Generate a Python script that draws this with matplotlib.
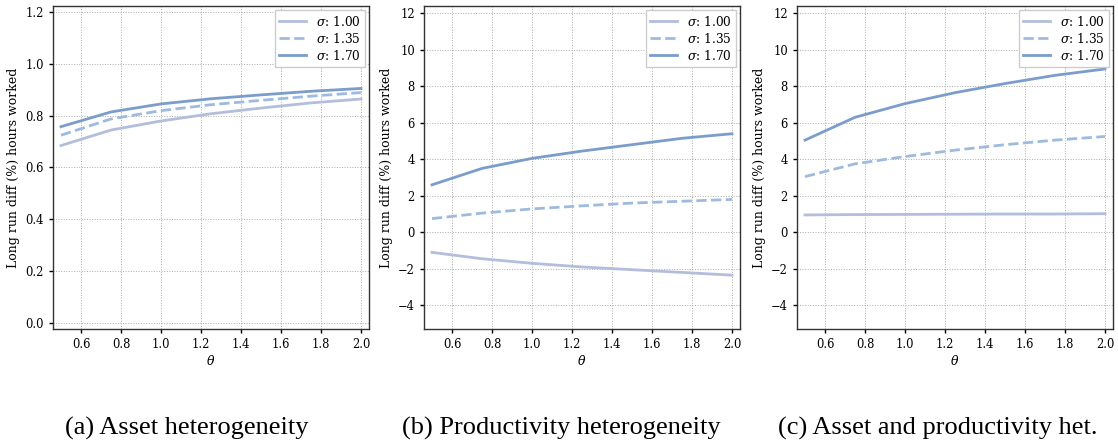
import numpy as np
import matplotlib
matplotlib.use("Agg")
import matplotlib.pyplot as plt

# ---- data ----
theta = [0.5, 0.75, 1.0, 1.25, 1.5, 1.75, 2.0]
sigma_labels = ["1.00", "1.35", "1.70"]

asset_s100 = [0.685, 0.745, 0.780, 0.808, 0.830, 0.850, 0.865]
asset_s135 = [0.725, 0.788, 0.820, 0.843, 0.860, 0.876, 0.890]
asset_s170 = [0.758, 0.815, 0.846, 0.866, 0.881, 0.895, 0.906]

prod_s100 = [-1.10, -1.45, -1.70, -1.90, -2.05, -2.20, -2.35]
prod_s135 = [0.75, 1.05, 1.28, 1.45, 1.60, 1.70, 1.80]
prod_s170 = [2.60, 3.50, 4.05, 4.45, 4.80, 5.15, 5.40]

both_s100 = [0.95, 0.97, 0.98, 0.99, 1.00, 1.00, 1.02]
both_s135 = [3.05, 3.75, 4.15, 4.50, 4.80, 5.05, 5.25]
both_s170 = [5.05, 6.30, 7.05, 7.65, 8.15, 8.60, 8.95]

captions = ["(a) Asset heterogeneity", "(b) Productivity heterogeneity",
            "(c) Asset and productivity het."]

COLORS = ["#b3bddc", "#9dbbdf", "#7a9dcb"]
STYLES = ["-", "--", "-"]

plt.rcParams.update({
    "font.family": "DejaVu Serif",
    "font.size": 8,
    "mathtext.fontset": "dejavuserif",
})

fig = plt.figure(figsize=(11.18, 4.46), dpi=100)
lefts = [53, 424, 797]
cap_centers = [186.5, 561, 937.5]
W, H = 1118, 446
panels = [
    ([asset_s100, asset_s135, asset_s170], (-0.025, 1.225), np.arange(0, 1.21, 0.2), "{:.1f}"),
    ([prod_s100, prod_s135, prod_s170], (-5.3, 12.4), np.arange(-4, 13, 2), "{:.0f}"),
    ([both_s100, both_s135, both_s170], (-5.3, 12.4), np.arange(-4, 13, 2), "{:.0f}"),
]

for i, (series, ylim, yt, fmt) in enumerate(panels):
    ax = fig.add_axes([lefts[i] / W, 1 - 329 / H, 316 / W, 323 / H])
    for s, lab, c, ls in zip(series, sigma_labels, COLORS, STYLES):
        ax.plot(theta, s, color=c, ls=ls, lw=2, label=r"$\sigma$: " + lab)
    ax.set_ylim(ylim)
    ax.set_xlim(0.46, 2.04)
    ax.set_yticks(yt)
    ax.set_yticklabels([fmt.format(v).replace("-", "\u2212") for v in yt])
    ax.set_xticks(np.arange(0.6, 2.01, 0.2))
    ax.set_xticklabels([f"{v:.1f}" for v in np.arange(0.6, 2.01, 0.2)])
    ax.grid(True, ls=":", color="#aaaaaa", lw=0.7)
    ax.set_xlabel(r"$\theta$", fontsize=9, labelpad=2)
    ax.set_ylabel("Long run diff (%) hours worked", fontsize=9)
    ax.tick_params(labelsize=8.3, length=3, width=1)
    for sp in ax.spines.values():
        sp.set_color("#333333")
        sp.set_linewidth(1.0)
    ax.legend(loc="upper right", fontsize=8.8, frameon=True, fancybox=False,
              edgecolor="#cccccc", framealpha=1, handlelength=2.2,
              borderaxespad=0.35, labelspacing=0.25, borderpad=0.35)
    fig.text(cap_centers[i] / W, 1 - 435 / H, captions[i], ha="center",
             va="baseline", fontsize=19, family="Liberation Serif")

fig.savefig("out.png", dpi=100)
